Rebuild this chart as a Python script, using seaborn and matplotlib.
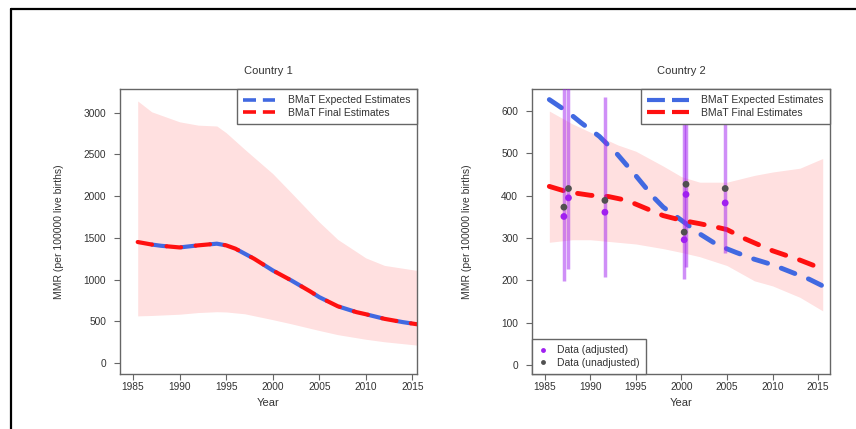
import matplotlib
matplotlib.use("Agg")
import matplotlib.pyplot as plt
from matplotlib.lines import Line2D
import seaborn as sns

# Country 1: estimates (expected and final overlap)
c1_years = [1985.5, 1987, 1988, 1990, 1992, 1994, 1995, 1996, 1998, 2000,
            2002, 2004, 2005, 2007, 2009, 2010, 2012, 2014, 2015.5]
c1_expected = [1450, 1420, 1405, 1385, 1410, 1430, 1410, 1370, 1250, 1110,
               990, 860, 790, 680, 610, 585, 530, 490, 465]
c1_final = [1450, 1420, 1405, 1385, 1410, 1430, 1410, 1370, 1250, 1110,
            990, 860, 790, 680, 610, 585, 530, 490, 465]
c1_band_years = [1985.5, 1987, 1990, 1992, 1994, 1995, 1997, 2000, 2002,
                 2005, 2007, 2010, 2012, 2015.5]
c1_upper = [3140, 3010, 2890, 2850, 2840, 2760, 2560, 2270, 2040,
            1690, 1480, 1260, 1170, 1110]
c1_lower = [565, 570, 585, 605, 615, 612, 590, 520, 470,
            390, 340, 285, 255, 215]

# Country 2: estimates
c2_exp_years = [1985.5, 1987.5, 1989, 1991, 1993, 1995, 1997, 1998, 2000,
                 2002, 2004, 2006, 2008, 2010, 2012, 2014, 2015.5]
c2_expected = [627, 598, 572, 540, 497, 447, 395, 373, 342,
               310, 283, 266, 250, 237, 220, 203, 187]
c2_fin_years = [1985.5, 1987.5, 1990, 1992, 1994, 1996, 1998, 2000, 2002,
                2004, 2005, 2007, 2010, 2013, 2015.5]
c2_final = [422, 409, 401, 398, 389, 371, 353, 342, 334,
            325, 320, 298, 270, 248, 227]
c2_band_years = [1985.5, 1988, 1990, 1993, 1995, 1998, 2000, 2002, 2005,
                 2008, 2010, 2013, 2015.5]
c2_upper = [600, 570, 550, 520, 505, 470, 445, 432, 432, 448, 456, 465, 488]
c2_lower = [290, 296, 296, 290, 286, 275, 266, 256, 235, 199, 187, 160, 128]

# Country 2: observations
obs_years = [1987.1, 1987.6, 1991.6, 2000.3, 2000.5, 2004.8]
obs_adjusted = [351, 395, 361, 296, 403, 383]
obs_unadjusted = [373, 417, 389, 314, 427, 417]
obs_low = [199, 228, 209, 204, 231, 264]
obs_high = [700, 700, 633, 700, 700, 700]

BLUE = "#4169e1"
RED = "#ff1010"
PURPLE = "#a020f0"
GREY = "#505050"
FRAME = "#666666"
TEXT = "#333333"

sns.set_style("white")
plt.rcParams["font.family"] = ["Liberation Sans", "DejaVu Sans"]
plt.rcParams["text.color"] = TEXT

fig = plt.figure(figsize=(8.56, 4.29), dpi=100)
ax1 = fig.add_axes([120 / 856, 55 / 429, 297 / 856, 285 / 429])
ax2 = fig.add_axes([532 / 856, 55 / 429, 298 / 856, 285 / 429])


def style_axes(ax, title, yticks, xlim, ylim, ylab_x):
    ax.set_xlim(*xlim)
    ax.set_ylim(*ylim)
    ax.set_xticks([1985, 1990, 1995, 2000, 2005, 2010, 2015])
    ax.set_yticks(yticks)
    ax.tick_params(axis="both", direction="out", length=4, width=0.8,
                   color=FRAME, labelsize=7.3, labelcolor=TEXT, bottom=True, left=True)
    ax.tick_params(axis="x", pad=2)
    ax.tick_params(axis="y", pad=6)
    for sp in ax.spines.values():
        sp.set_color(FRAME)
        sp.set_linewidth(1.0)
    ax.set_title(title, fontsize=8, color=TEXT, pad=11)
    ax.set_xlabel("Year", fontsize=8, color=TEXT)
    ax.set_ylabel("MMR (per 100000 live births)", fontsize=7.5, color=TEXT)
    ax.xaxis.set_label_coords(0.5, -0.085)
    ax.yaxis.set_label_coords(ylab_x, 0.5)


def est_handles(lw, on, off):
    return [
        Line2D([], [], color=BLUE, lw=lw, ls=(0, (on, off)), dash_capstyle="butt"),
        Line2D([], [], color=RED, lw=lw, ls=(0, (on, off)), dash_capstyle="butt"),
    ]


EST_LABELS = ["BMaT Expected Estimates", "BMaT Final Estimates"]

# ---- Country 1
ax1.fill_between(c1_band_years, c1_lower, c1_upper, color="red", alpha=0.12, lw=0)
sns.lineplot(x=c1_years, y=c1_expected, ax=ax1, color=BLUE, lw=3, legend=False)
ax1.lines[-1].set_linestyle((3.5, (3.5, 3.5)))
ax1.lines[-1].set_dash_capstyle("round")
sns.lineplot(x=c1_years, y=c1_final, ax=ax1, color=RED, lw=3, legend=False)
ax1.lines[-1].set_linestyle((0, (3.5, 3.5)))
ax1.lines[-1].set_dash_capstyle("round")
style_axes(ax1, "Country 1", range(0, 3001, 500), (1983.6, 2015.5), (-131, 3283), -0.19)
ax1.legend(est_handles(2.6, 3.6, 1.9), EST_LABELS, loc="upper right", borderaxespad=0,
           fontsize=7.5, frameon=True, fancybox=False, framealpha=1,
           edgecolor=FRAME, handlelength=3.0, labelspacing=0.25, borderpad=0.6,
           handletextpad=1.3)

# ---- Country 2
ax2.fill_between(c2_band_years, c2_lower, c2_upper, color="red", alpha=0.12, lw=0)
sns.lineplot(x=c2_exp_years, y=c2_expected, ax=ax2, color=BLUE, lw=3.5, legend=False)
ax2.lines[-1].set_linestyle((0, (3.0, 3.0)))
ax2.lines[-1].set_dash_capstyle("round")
sns.lineplot(x=c2_fin_years, y=c2_final, ax=ax2, color=RED, lw=3.5, legend=False)
ax2.lines[-1].set_linestyle((0, (3.0, 3.0)))
ax2.lines[-1].set_dash_capstyle("round")
ax2.vlines(obs_years, obs_low, obs_high, color=PURPLE, alpha=0.5, lw=2.5, zorder=3)
sns.scatterplot(x=obs_years, y=obs_adjusted, ax=ax2, color=PURPLE, s=24,
                edgecolor="none", zorder=4, legend=False)
sns.scatterplot(x=obs_years, y=obs_unadjusted, ax=ax2, color=GREY, s=24,
                edgecolor="none", zorder=4, legend=False)
style_axes(ax2, "Country 2", range(0, 601, 100), (1983.6, 2016.3), (-21, 652), -0.2)

leg_top = ax2.legend(est_handles(3.0, 4.3, 1.7), EST_LABELS, loc="upper right",
                     borderaxespad=0, fontsize=7.5, frameon=True, fancybox=False,
                     framealpha=1, edgecolor=FRAME, handlelength=4.0,
                     labelspacing=0.25, borderpad=0.6, handletextpad=1.2)
ax2.add_artist(leg_top)
dot_handles = [
    Line2D([], [], ls="none", marker="o", ms=3.5, color=PURPLE, mec="none"),
    Line2D([], [], ls="none", marker="o", ms=3.5, color=GREY, mec="none"),
]
ax2.legend(dot_handles, ["Data (adjusted)", "Data (unadjusted)"], loc="lower left",
           borderaxespad=0, fontsize=7.5, frameon=True, fancybox=False,
           framealpha=1, edgecolor=FRAME, handlelength=1.0, labelspacing=0.25,
           borderpad=0.6, handletextpad=0.8)

# screenshot frame (left and top edges)
fig.add_artist(Line2D([10.5 / 856, 10.5 / 856], [0, 1 - 8.5 / 429], color="black", lw=1.6))
fig.add_artist(Line2D([10.5 / 856, 1], [1 - 8.5 / 429, 1 - 8.5 / 429], color="black", lw=1.6))

fig.savefig("out.png", dpi=100)
plt.close(fig)
